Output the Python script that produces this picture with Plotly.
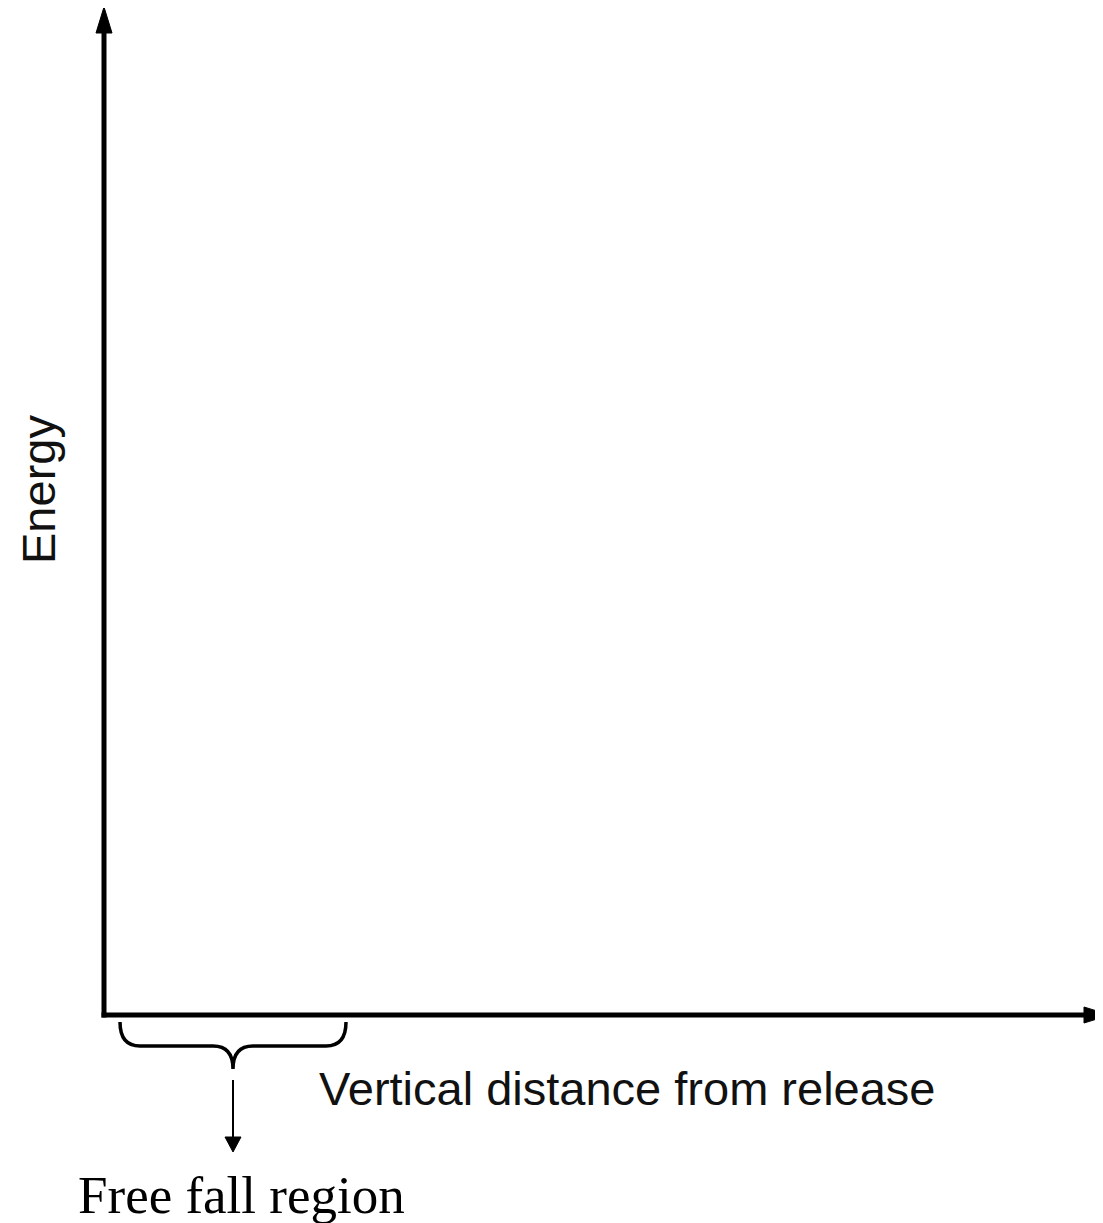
import plotly.graph_objects as go

# ---- content (diagram has no data series, only labels) ----
x_axis_label = "Vertical distance from release"
y_axis_label = "Energy"
region_label = "Free fall region"

W, H = 1103, 1223
PAGE_MARGIN = 8  # default body margin of the html page

# layout geometry in page pixels
origin_x, origin_y = 104, 1015
y_top = 7
x_right = 1110
brace_left, brace_right, brace_top, brace_mid, brace_tip = 120, 346, 1022, 1046, 1069
brace_cx = (brace_left + brace_right) / 2
arrow_start, arrow_tip = 1080, 1152

fig = go.Figure()

shapes = []
# y axis line
shapes.append(dict(type="line", x0=origin_x, y0=origin_y + 2.5, x1=origin_x, y1=y_top + 20,
                   line=dict(color="black", width=5)))
# y axis arrowhead
shapes.append(dict(type="path",
                   path=f"M {origin_x-8} {y_top+26} L {origin_x} {y_top} L {origin_x+8} {y_top+26} Z",
                   fillcolor="black", line=dict(color="black", width=1)))
# x axis line
shapes.append(dict(type="line", x0=origin_x - 2.5, y0=origin_y, x1=x_right - 20, y1=origin_y,
                   line=dict(color="black", width=5)))
# x axis arrowhead
shapes.append(dict(type="path",
                   path=f"M {x_right-26} {origin_y-8} L {x_right} {origin_y} L {x_right-26} {origin_y+8} Z",
                   fillcolor="black", line=dict(color="black", width=1)))
# curly brace
r = 20
brace = (f"M {brace_left} {brace_top} "
         f"Q {brace_left} {brace_mid} {brace_left + r} {brace_mid} "
         f"L {brace_cx - r} {brace_mid} "
         f"Q {brace_cx} {brace_mid} {brace_cx} {brace_tip} "
         f"Q {brace_cx} {brace_mid} {brace_cx + r} {brace_mid} "
         f"L {brace_right - r} {brace_mid} "
         f"Q {brace_right} {brace_mid} {brace_right} {brace_top}")
shapes.append(dict(type="path", path=brace, line=dict(color="black", width=3.5)))
# arrow down to label
shapes.append(dict(type="line", x0=brace_cx, y0=arrow_start, x1=brace_cx, y1=arrow_tip - 12,
                   line=dict(color="black", width=2)))
shapes.append(dict(type="path",
                   path=f"M {brace_cx-8} {arrow_tip-15} L {brace_cx} {arrow_tip} L {brace_cx+8} {arrow_tip-15} Z",
                   fillcolor="black", line=dict(color="black", width=1)))

for s in shapes:
    s.update(xref="x", yref="y", layer="above")

annotations = [
    dict(x=627, y=1088, text=x_axis_label, showarrow=False, xref="x", yref="y",
         xanchor="center", yanchor="middle",
         font=dict(family="Liberation Sans, Arial, sans-serif", size=47, color="#111111")),
    dict(x=38, y=490, text=y_axis_label, showarrow=False, xref="x", yref="y",
         xanchor="center", yanchor="middle", textangle=-90,
         font=dict(family="Liberation Sans, Arial, sans-serif", size=47, color="#111111")),
    dict(x=241, y=1195, text=region_label, showarrow=False, xref="x", yref="y",
         xanchor="center", yanchor="middle",
         font=dict(family="Liberation Serif, Times New Roman, serif", size=53, color="black")),
]

fig.update_layout(
    width=W - PAGE_MARGIN, height=H - PAGE_MARGIN,
    margin=dict(l=0, r=0, t=0, b=0),
    paper_bgcolor="white", plot_bgcolor="white",
    xaxis=dict(range=[PAGE_MARGIN, W], visible=False, fixedrange=True),
    yaxis=dict(range=[H, PAGE_MARGIN], visible=False, fixedrange=True),
    shapes=shapes,
    annotations=annotations,
    showlegend=False,
)

fig.write_html("out.html", config={"displayModeBar": False})
